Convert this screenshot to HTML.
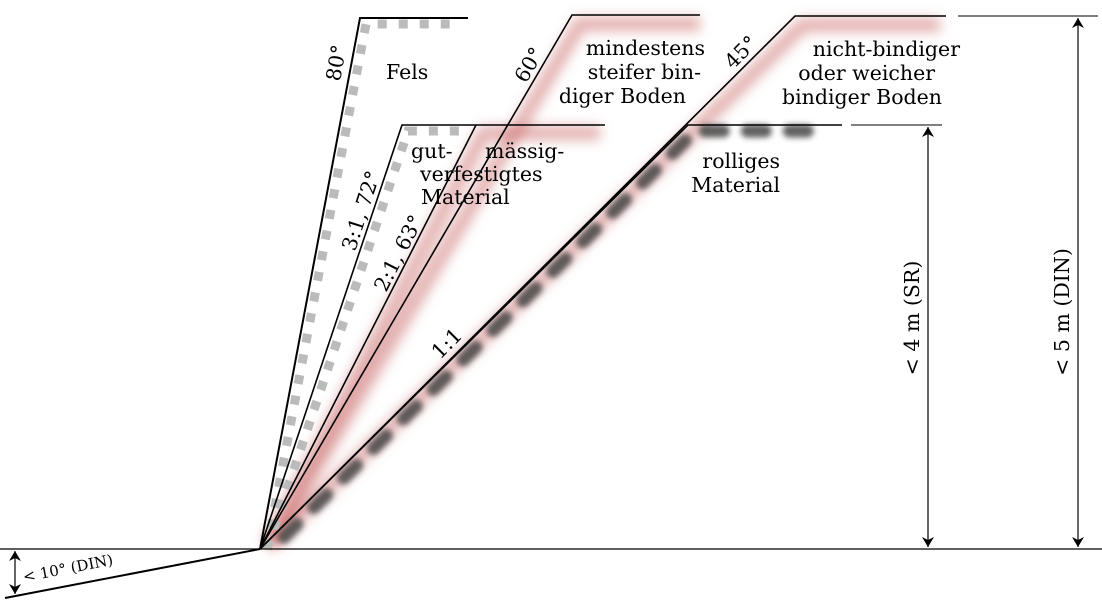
<!DOCTYPE html>
<html><head><meta charset="utf-8"><style>
html,body{margin:0;padding:0;background:#fff;}
svg{display:block;}
text{font-family:"DejaVu Serif","Liberation Serif",serif;font-size:20.5px;fill:#000;}
</style></head><body>
<svg width="1102" height="600" viewBox="0 0 1102 600" xmlns="http://www.w3.org/2000/svg">
<defs>
<filter id="b1" x="-20%" y="-20%" width="140%" height="140%"><feGaussianBlur stdDeviation="6"/></filter>
<filter id="b2" x="-20%" y="-20%" width="140%" height="140%"><feGaussianBlur stdDeviation="3"/></filter>
<marker id="ar" viewBox="0 0 10 16" refX="10" refY="8" markerWidth="10" markerHeight="16" orient="auto-start-reverse" markerUnits="userSpaceOnUse"><path d="M0,2 L10,8 L0,14 L3,8 z" fill="#000"/></marker>
</defs>
<g filter="url(#b1)" stroke="#c86060" stroke-opacity="0.5" fill="none" stroke-width="14">
<polyline points="270,545 580,24 700,24"/>
<polyline points="268,545 484,133 600,133"/>
<polyline points="270,545 803,25 940,25"/>
</g>
<g filter="url(#b2)" stroke="#444" stroke-opacity="0.85" fill="none" stroke-width="13" stroke-dasharray="18,24" stroke-linecap="round">
<polyline points="284,537 695,131 830,131"/>
</g>
<g stroke="#bbb" fill="none" stroke-width="9" stroke-dasharray="9,12">
<polyline points="267,549 366,24 460,24"/>
<polyline points="267,549 408,131 470,131"/>
</g>
<g stroke="#000" fill="none" stroke-width="1.6">
<line x1="0" y1="549" x2="1102" y2="549" stroke-width="1.2"/>
<line x1="260" y1="549" x2="5" y2="598" stroke-width="2"/>
<polyline points="260,549 360,18 468,18" stroke-width="2"/>
<polyline points="260,549 402,125 605,125"/>
<polyline points="260,549 476,125"/>
<polyline points="260,549 572,15 700,15"/>
<polyline points="260,549 795,16 946,16"/>
<polyline points="260,549 688,125 842,125"/>
<line x1="958" y1="16" x2="1098" y2="16" stroke-width="1"/>
<line x1="851" y1="125" x2="942" y2="125" stroke-width="1"/>
<line x1="928" y1="127" x2="928" y2="547" stroke-width="1.2" marker-start="url(#ar)" marker-end="url(#ar)"/>
<line x1="1078" y1="18" x2="1078" y2="547" stroke-width="1.2" marker-start="url(#ar)" marker-end="url(#ar)"/>
<line x1="15" y1="551" x2="15" y2="594" stroke-width="1.2" marker-start="url(#ar)" marker-end="url(#ar)"/>
</g>
<text x="386" y="79">Fels</text>
<text transform="translate(340,82) rotate(-80)">80°</text>
<text transform="translate(355,252) rotate(-72)">3:1,  72°</text>
<text transform="translate(386,293) rotate(-63)">2:1,  63°</text>
<text transform="translate(526,84) rotate(-60)">60°</text>
<text transform="translate(733,70) rotate(-45)">45°</text>
<text transform="translate(440,360) rotate(-45)">1:1</text>
<text x="705" y="55" text-anchor="end">mindestens</text>
<text x="701" y="79" text-anchor="end">steifer bin-</text>
<text x="686" y="103" text-anchor="end">diger Boden</text>
<text x="411" y="158">gut-</text>
<text x="485" y="158">mässig-</text>
<text x="420" y="181">verfestigtes</text>
<text x="421" y="204">Material</text>
<text x="960" y="56" text-anchor="end">nicht-bindiger</text>
<text x="935" y="80" text-anchor="end">oder weicher</text>
<text x="942" y="104" text-anchor="end">bindiger Boden</text>
<text x="780" y="168" text-anchor="end">rolliges</text>
<text x="780" y="192" text-anchor="end">Material</text>
<text transform="translate(919,318) rotate(-90)" text-anchor="middle">&lt; 4 m (SR)</text>
<text transform="translate(1069,312) rotate(-90)" text-anchor="middle">&lt; 5 m (DIN)</text>
<text transform="translate(24,582) rotate(-11)" style="font-size:15px">&lt; 10° (DIN)</text>
</svg>
</body></html>
